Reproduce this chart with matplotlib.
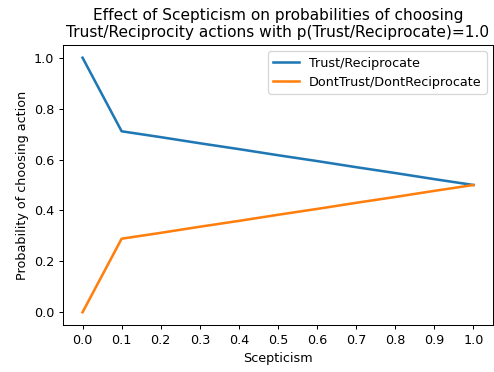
import matplotlib
matplotlib.use('Agg')
import matplotlib.pyplot as plt

# Scepticism values and action probabilities
scepticism = [0.0, 0.1, 0.2, 0.3, 0.4, 0.5, 0.6, 0.7, 0.8, 0.9, 1.0]
p_trust = [1.0, 0.711, 0.688, 0.664, 0.641, 0.617, 0.594, 0.570, 0.547, 0.523, 0.5]
p_dont = [0.0, 0.289, 0.312, 0.336, 0.359, 0.383, 0.406, 0.430, 0.453, 0.477, 0.5]

fig, ax = plt.subplots(figsize=(494 / 92, 372 / 92), dpi=92)
ax.plot(scepticism, p_trust, color='#1f77b4', linewidth=2.0, label='Trust/Reciprocate')
ax.plot(scepticism, p_dont, color='#ff7f0e', linewidth=2.0, label='DontTrust/DontReciprocate')
ax.set_xticks(scepticism)
ax.set_title('Effect of Scepticism on probabilities of choosing\nTrust/Reciprocity actions with p(Trust/Reciprocate)=1.0')
ax.set_xlabel('Scepticism')
ax.set_ylabel('Probability of choosing action')
ax.legend(loc='upper right')
fig.subplots_adjust(left=63 / 494, right=493 / 494, top=1 - 45 / 372, bottom=1 - 325 / 372)
fig.savefig('out.png')
